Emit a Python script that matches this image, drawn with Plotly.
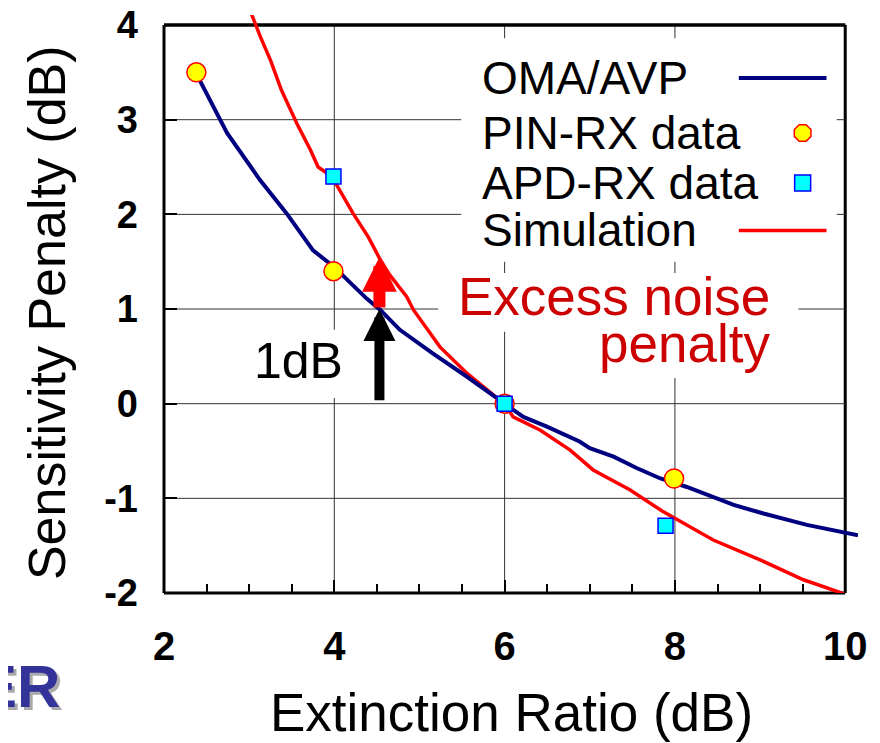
import plotly.graph_objects as go

# ---------------- data ----------------
oma_x = [2.38, 2.44, 2.74, 3.13, 3.44, 3.75, 3.99, 4.38, 4.54, 4.77, 5.16, 5.55, 6.0,
         6.22, 6.49, 6.88, 7.0, 7.28, 7.55, 7.83, 8.14, 8.69, 9.04, 9.55, 10.15]
oma_y = [3.49, 3.38, 2.86, 2.36, 2.01, 1.62, 1.45, 1.11, 0.99, 0.78, 0.53, 0.29, 0.0,
         -0.14, -0.24, -0.40, -0.47, -0.56, -0.68, -0.79, -0.88, -1.07, -1.16, -1.28, -1.39]

sim_x = [3.03, 3.13, 3.25, 3.38, 3.56, 3.72, 3.81, 3.97, 4.22, 4.40, 4.54, 4.65, 4.85,
         4.93, 5.24, 5.56, 5.87, 6.0, 6.10, 6.42, 6.77, 7.04, 7.47, 7.86, 8.45, 9.0, 9.51, 10.15]
sim_y = [4.11, 3.88, 3.63, 3.31, 2.96, 2.68, 2.50, 2.40, 2.01, 1.76, 1.52, 1.36, 1.13,
         0.99, 0.60, 0.32, 0.09, 0.0, -0.14, -0.28, -0.49, -0.70, -0.91, -1.14, -1.44, -1.65, -1.86, -2.06]

pin_x = [2.38, 3.99, 6.0, 7.99]
pin_y = [3.50, 1.40, 0.0, -0.79]

apd_x = [3.99, 6.0, 7.89]
apd_y = [2.40, 0.0, -1.29]

x_tick_labels = ["2", "4", "6", "8", "10"]
y_tick_labels = ["-2", "-1", "0", "1", "2", "3", "4"]
legend_labels = ["OMA/AVP", "PIN-RX data", "APD-RX data", "Simulation"]

# ---------------- styles / layout constants ----------------
FONT = "Arial, 'Liberation Sans', sans-serif"
NAVY = "#000080"
RED = "#ff0000"
DARKRED = "#cc0000"
GRID = "#333333"

X0, X1, XEND = 2, 10, 10.15
Y0, Y1, YEND = -2, 4, 4.106
PX_RIGHT = (X1 - X0) / (XEND - X0)   # frame position in paper units
PX_TOP = (Y1 - Y0) / (YEND - Y0)

fig = go.Figure()

# top edge of the frame, drawn along the axis scale
fig.add_trace(go.Scatter(x=[X0, X1], y=[Y1, Y1], mode="lines", line=dict(color="black", width=3),
                         showlegend=False, hoverinfo="skip"))

fig.add_trace(go.Scatter(x=sim_x, y=sim_y, mode="lines", name="Simulation",
                         line=dict(color=RED, width=3.5), showlegend=False))
fig.add_trace(go.Scatter(x=oma_x, y=oma_y, mode="lines", name="OMA/AVP",
                         line=dict(color=NAVY, width=4), showlegend=False))
fig.add_trace(go.Scatter(x=pin_x, y=pin_y, mode="markers", name="PIN-RX data",
                         marker=dict(symbol="circle", size=19, color="#ffff00",
                                     line=dict(color=RED, width=1.5)), showlegend=False))
fig.add_trace(go.Scatter(x=apd_x, y=apd_y, mode="markers", name="APD-RX data",
                         marker=dict(symbol="square", size=15, color="#00ffff",
                                     line=dict(color="#0000ff", width=1.5)), showlegend=False))

# ---------------- custom legend (symbols on the right) ----------------
LEG_ROWS = [3.44, 2.86, 2.33, 1.83]
LEG_TEXT_X = 5.71
LEG_LINE_X = [8.75, 9.78]
LEG_MARK_X = 9.5

fig.add_trace(go.Scatter(x=LEG_LINE_X, y=[LEG_ROWS[0]] * 2, mode="lines",
                         line=dict(color=NAVY, width=4), showlegend=False, hoverinfo="skip"))
fig.add_trace(go.Scatter(x=[LEG_MARK_X], y=[LEG_ROWS[1]], mode="markers",
                         marker=dict(symbol="octagon", size=18, color="#ffff00",
                                     line=dict(color=RED, width=1.5)), showlegend=False, hoverinfo="skip"))
fig.add_trace(go.Scatter(x=[LEG_MARK_X], y=[LEG_ROWS[2]], mode="markers",
                         marker=dict(symbol="square", size=16, color="#00ffff",
                                     line=dict(color="#0000ff", width=1.5)), showlegend=False, hoverinfo="skip"))
fig.add_trace(go.Scatter(x=LEG_LINE_X, y=[LEG_ROWS[3]] * 2, mode="lines",
                         line=dict(color=RED, width=3.5), showlegend=False, hoverinfo="skip"))

shapes = []
# gridlines
for yv in [-1, 0, 1, 2, 3]:
    shapes.append(dict(type="line", xref="x", yref="y", x0=X0, x1=X1, y0=yv, y1=yv,
                       line=dict(color=GRID, width=1), layer="below"))
for xv in [4, 6, 8]:
    shapes.append(dict(type="line", xref="x", yref="y", x0=xv, x1=xv, y0=Y0, y1=Y1,
                       line=dict(color=GRID, width=1), layer="below"))
# white boxes behind legend and texts
for (bx0, bx1, by0, by1) in [(5.49, 9.90, 1.50, 3.86),
                             (5.22, 9.45, 0.76, 1.38),
                             (7.0, 9.45, 0.27, 0.76),
                             (3.0, 4.18, 0.06, 0.78)]:
    shapes.append(dict(type="rect", xref="x", yref="y", x0=bx0, x1=bx1, y0=by0, y1=by1,
                       fillcolor="white", line=dict(width=0), layer="below"))
# frame (paper units): the curves may run past it, as in the original
for (fx0, fx1, fy0, fy1) in [(0, PX_RIGHT, PX_TOP, PX_TOP),
                             (PX_RIGHT, PX_RIGHT, 0, PX_TOP),
                             (0, PX_RIGHT, 0, 0),
                             (0, 0, 0, PX_TOP)]:
    shapes.append(dict(type="line", xref="paper", yref="paper", x0=fx0, x1=fx1, y0=fy0, y1=fy1,
                       line=dict(color="black", width=3), layer="below"))

annotations = []
for lbl, ry in zip(legend_labels, LEG_ROWS):
    annotations.append(dict(x=LEG_TEXT_X, y=ry, xref="x", yref="y", text=lbl, showarrow=False,
                            xanchor="left", yanchor="middle",
                            font=dict(family=FONT, size=46, color="black")))

annotations.append(dict(x=9.14, y=1.13, xref="x", yref="y", text="Excess noise", showarrow=False,
                        xanchor="right", yanchor="middle", font=dict(family=FONT, size=53, color=DARKRED)))
annotations.append(dict(x=9.14, y=0.64, xref="x", yref="y", text="penalty", showarrow=False,
                        xanchor="right", yanchor="middle", font=dict(family=FONT, size=53, color=DARKRED)))
annotations.append(dict(x=3.585, y=0.45, xref="x", yref="y", text="1dB", showarrow=False,
                        xanchor="center", yanchor="middle", font=dict(family=FONT, size=50, color="black")))

# arrows
ARROW_X = 4.53
annotations.append(dict(x=ARROW_X, y=1.0, ax=ARROW_X, ay=0.02, xref="x", yref="y", axref="x", ayref="y",
                        text="", showarrow=True, arrowhead=2, arrowsize=0.64, arrowwidth=10,
                        arrowcolor="black", standoff=0, startstandoff=0))
annotations.append(dict(x=ARROW_X, y=1.55, ax=ARROW_X, ay=1.0, xref="x", yref="y", axref="x", ayref="y",
                        text="", showarrow=True, arrowhead=2, arrowsize=0.58, arrowwidth=12,
                        arrowcolor=RED, standoff=0, startstandoff=0))

# axis titles
annotations.append(dict(x=-0.1686, y=0.486, xref="paper", yref="paper", text="Sensitivity Penalty (dB)",
                        showarrow=False, textangle=-90, xanchor="center", yanchor="middle",
                        font=dict(family=FONT, size=52, color="black")))
annotations.append(dict(x=0.501, y=-0.2076, xref="paper", yref="paper", text="Extinction Ratio (dB)",
                        showarrow=False, xanchor="center", yanchor="middle",
                        font=dict(family=FONT, size=53, color="black")))
# clipped slide title fragment
annotations.append(dict(x=-0.1425, y=-0.1678, xref="paper", yref="paper", text="<b>ER</b>",
                        showarrow=False, xanchor="right", yanchor="middle",
                        font=dict(family=FONT, size=60, color="#aaaaaa")))
annotations.append(dict(x=-0.147, y=-0.1626, xref="paper", yref="paper", text="<b>ER</b>",
                        showarrow=False, xanchor="right", yanchor="middle",
                        font=dict(family=FONT, size=60, color="#333399")))

# the page body adds an 8 px offset; the figure is sized to fill the rest of the window
fig.update_layout(
    width=872, height=735,
    margin=dict(l=156, r=22, t=7, b=150, pad=0, autoexpand=False),
    paper_bgcolor="white", plot_bgcolor="rgba(0,0,0,0)",
    showlegend=False,
    shapes=shapes, annotations=annotations,
    xaxis=dict(range=[X0, XEND], showgrid=False, zeroline=False, automargin=False,
               showline=False,
               tickmode="array", tickvals=[int(t) for t in x_tick_labels], ticktext=x_tick_labels,
               ticks="inside", ticklen=13, tickwidth=2, tickcolor="black",
               tickfont=dict(family=FONT, size=40, color="black", weight="bold"),
               ticklabelstandoff=26, ticklabeloverflow="allow",
               minor=dict(ticks="inside", ticklen=9, tickwidth=2, tickcolor="black",
                          tickmode="linear", tick0=2, dtick=0.5, showgrid=False)),
    yaxis=dict(range=[Y0, YEND], showgrid=False, zeroline=False, automargin=False,
               showline=False,
               tickmode="array", tickvals=[int(t) for t in y_tick_labels], ticktext=y_tick_labels,
               ticks="inside", ticklen=13, tickwidth=2, tickcolor="black",
               tickfont=dict(family=FONT, size=38, color="black", weight="bold"),
               ticklabelstandoff=25, ticklabeloverflow="allow"),
)

fig.write_html("out.html")
